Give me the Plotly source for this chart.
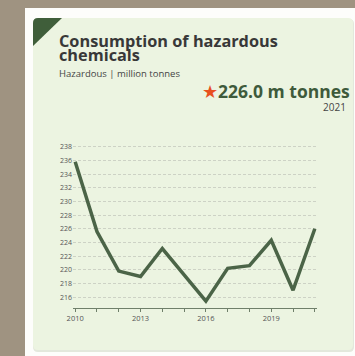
import plotly.graph_objects as go

# Annual consumption of hazardous chemicals (million tonnes)
years = [2010, 2011, 2012, 2013, 2014, 2015, 2016, 2017, 2018, 2019, 2020, 2021]
consumption = [235.8, 225.6, 219.8, 219.0, 223.1, 219.2, 215.4, 220.2, 220.6, 224.3, 217.0, 226.0]
y_ticks = [216, 218, 220, 222, 224, 226, 228, 230, 232, 234, 236, 238]
x_ticks = [2010, 2013, 2016, 2019]

W, H = 355, 356
L, R, T, B = 73, 38, 144, 48
PW, PH = W - L - R, H - T - B


def px(x):
    return (x - L) / PW


def py(y):
    return 1 - (y - T) / PH


def rounded_rect(x0, y0, x1, y1, r):
    return (f"M{px(x0 + r)},{py(y0)} L{px(x1 - r)},{py(y0)} "
            f"Q{px(x1)},{py(y0)} {px(x1)},{py(y0 + r)} "
            f"L{px(x1)},{py(y1 - r)} Q{px(x1)},{py(y1)} {px(x1 - r)},{py(y1)} "
            f"L{px(x0 + r)},{py(y1)} Q{px(x0)},{py(y1)} {px(x0)},{py(y1 - r)} "
            f"L{px(x0)},{py(y0 + r)} Q{px(x0)},{py(y0)} {px(x0 + r)},{py(y0)} Z")


fig = go.Figure()
fig.add_trace(go.Scatter(
    x=years, y=consumption, mode="lines",
    line=dict(color="#4b6447", width=3.5),
    hoverinfo="skip",
))

shapes = [
    # white card
    dict(type="rect", xref="paper", yref="paper", x0=px(25), x1=px(360), y0=py(8), y1=py(360),
         fillcolor="#fdfdfb", line=dict(width=0), layer="below"),
    # card shadow
    dict(type="path", xref="paper", yref="paper", path=rounded_rect(33, 19, 354, 352, 5),
         fillcolor="#e3e8dc", line=dict(width=0), layer="below"),
    # green panel
    dict(type="path", xref="paper", yref="paper", path=rounded_rect(33, 18, 353, 350, 5),
         fillcolor="#ecf4e1", line=dict(width=0), layer="below"),
    # corner flag
    dict(type="path", xref="paper", yref="paper",
         path=(f"M{px(33)},{py(23)} Q{px(33)},{py(18)} {px(38)},{py(18)} "
               f"L{px(62)},{py(18)} L{px(33)},{py(46)} Z"),
         fillcolor="#3f5e3a", line=dict(width=0), layer="below"),
]

ann = [
    dict(text="<b>Consumption of hazardous</b>", x=px(57), y=py(41), xanchor="left", yanchor="middle",
         font=dict(family="Open Sans", size=16.3, color="#383838")),
    dict(text="<b>chemicals</b>", x=px(57), y=py(55), xanchor="left", yanchor="middle",
         font=dict(family="Open Sans", size=16.3, color="#383838")),
    dict(text="Hazardous | million tonnes", x=px(57), y=py(73), xanchor="left", yanchor="middle",
         font=dict(family="Open Sans", size=9.5, color="#444444")),
    dict(text="<span style='color:#e8501f'>★</span><b>226.0 m tonnes</b>", x=px(352), y=py(91),
         xanchor="right", yanchor="middle",
         font=dict(family="Open Sans", size=17.5, color="#3e5a3b")),
    dict(text="2021", x=px(348), y=py(107.5), xanchor="right", yanchor="middle",
         font=dict(family="Open Sans", size=10, color="#444444")),
]
for a in ann:
    a.update(xref="paper", yref="paper", showarrow=False)

fig.update_layout(
    width=W, height=H,
    margin=dict(l=L, r=R, t=T, b=B),
    paper_bgcolor="#9f9381",
    plot_bgcolor="rgba(0,0,0,0)",
    showlegend=False,
    shapes=shapes,
    annotations=ann,
    xaxis=dict(
        range=[2009.9, 2021.1], tickvals=x_ticks, ticktext=[str(v) for v in x_ticks],
        showgrid=False, zeroline=False,
        showline=True, linecolor="#6f7f6a", linewidth=1,
        ticks="outside", ticklen=3, tickcolor="#6f7f6a",
        minor=dict(dtick=1, tick0=2010, ticks="outside", ticklen=3, tickcolor="#6f7f6a", showgrid=False),
        tickfont=dict(family="Open Sans", size=7.5, color="#555555"),
        fixedrange=True,
    ),
    yaxis=dict(
        range=[214.4, 238.4], tickvals=y_ticks, ticktext=[str(v) for v in y_ticks],
        showgrid=True, gridcolor="#cdd2c5", griddash="3px,2px", gridwidth=1,
        zeroline=False, showline=False, ticks="",
        tickfont=dict(family="Open Sans", size=7, color="#555555"),
        fixedrange=True,
    ),
)

fig.write_html("out.html", config=dict(displayModeBar=False))
